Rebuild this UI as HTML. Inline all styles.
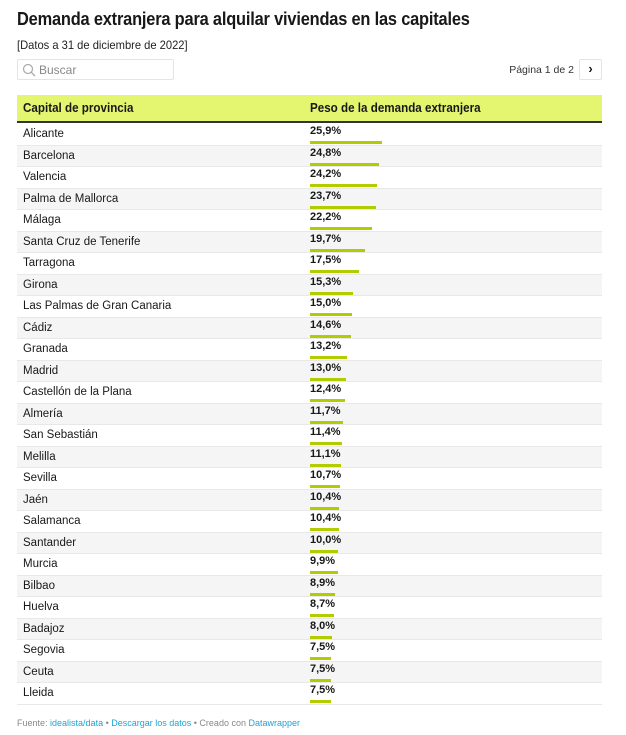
<!DOCTYPE html>
<html><head><meta charset="utf-8"><style>
body{margin:0;width:626px;height:735px;background:#fff;font-family:"Liberation Sans",sans-serif;color:#181818;position:relative;overflow:hidden}
.t{position:absolute;left:17px;top:9px;font-size:18px;font-weight:bold;letter-spacing:-0.2px;transform:scaleX(0.91);transform-origin:0 0;white-space:nowrap}
.s{position:absolute;left:17px;top:38px;font-size:12px;color:#222;transform:scaleX(0.93);transform-origin:0 0}
.search{position:absolute;left:17px;top:59px;width:157px;height:21px;border:1px solid #e4e4e4;border-radius:2px;font-size:12px;color:#888;line-height:20px;box-sizing:border-box}
.pg{position:absolute;right:52px;top:64px;font-size:10.5px;color:#333}
.btn{position:absolute;left:579px;top:59px;width:23px;height:21px;border:1px solid #e4e4e4;border-radius:2px;box-sizing:border-box;font-size:13px;text-align:center;line-height:18px;font-weight:bold}
.hd{position:absolute;left:17px;top:95px;width:585px;height:28px;background:#e4f56f;border-bottom:2px solid #333;box-sizing:border-box;font-size:12.5px;font-weight:bold}
.hd span{position:absolute;top:6px;transform:scaleX(0.93);transform-origin:0 0;white-space:nowrap}
.row{position:absolute;left:17px;width:585px;height:21.5px;border-bottom:1px solid #e8e8e8;box-sizing:border-box;font-size:11.5px}
.row.g{background:#f5f5f5}
.n{position:absolute;left:6px;top:4px}
.v{position:absolute;left:293px;top:1px;font-weight:bold;font-size:11px}
.b{position:absolute;left:293px;top:17px;height:3px;background:#b3cc00}
.f{position:absolute;left:17px;top:718px;font-size:9px;color:#888}
.f a{color:#1ba6d6;text-decoration:none}
</style></head><body>
<div class="t">Demanda extranjera para alquilar viviendas en las capitales</div>
<div class="s">[Datos a 31 de diciembre de 2022]</div>
<div class="search"><svg width="14" height="14" style="position:absolute;left:4px;top:3px"><circle cx="6" cy="6" r="4.5" fill="none" stroke="#aaa" stroke-width="1.2"/><line x1="9.3" y1="9.3" x2="13" y2="13" stroke="#aaa" stroke-width="1.3"/></svg><span style="position:absolute;left:21px">Buscar</span></div>
<div class="pg">Página 1 de 2</div>
<div class="btn">&#8250;</div>
<div class="hd"><span style="left:6px">Capital de provincia</span><span style="left:293px">Peso de la demanda extranjera</span></div>
<div id="rows"></div>
<script>
var d=[["Alicante",25.9],["Barcelona",24.8],["Valencia",24.2],["Palma de Mallorca",23.7],["Málaga",22.2],["Santa Cruz de Tenerife",19.7],["Tarragona",17.5],["Girona",15.3],["Las Palmas de Gran Canaria",15.0],["Cádiz",14.6],["Granada",13.2],["Madrid",13.0],["Castellón de la Plana",12.4],["Almería",11.7],["San Sebastián",11.4],["Melilla",11.1],["Sevilla",10.7],["Jaén",10.4],["Salamanca",10.4],["Santander",10.0],["Murcia",9.9],["Bilbao",8.9],["Huelva",8.7],["Badajoz",8.0],["Segovia",7.5],["Ceuta",7.5],["Lleida",7.5]];
var h="";d.forEach(function(r,i){var top=124+i*21.5;h+='<div class="row'+(i%2?' g':'')+'" style="top:'+top+'px"><span class="n">'+r[0]+'</span><span class="v">'+r[1].toFixed(1).replace(".",",")+'%</span><div class="b" style="width:'+(r[1]*2.78).toFixed(1)+'px"></div></div>';});
document.getElementById("rows").innerHTML=h;
</script>
<div class="f">Fuente: <a>idealista/data</a> • <a>Descargar los datos</a> • Creado con <a>Datawrapper</a></div>
</body></html>
